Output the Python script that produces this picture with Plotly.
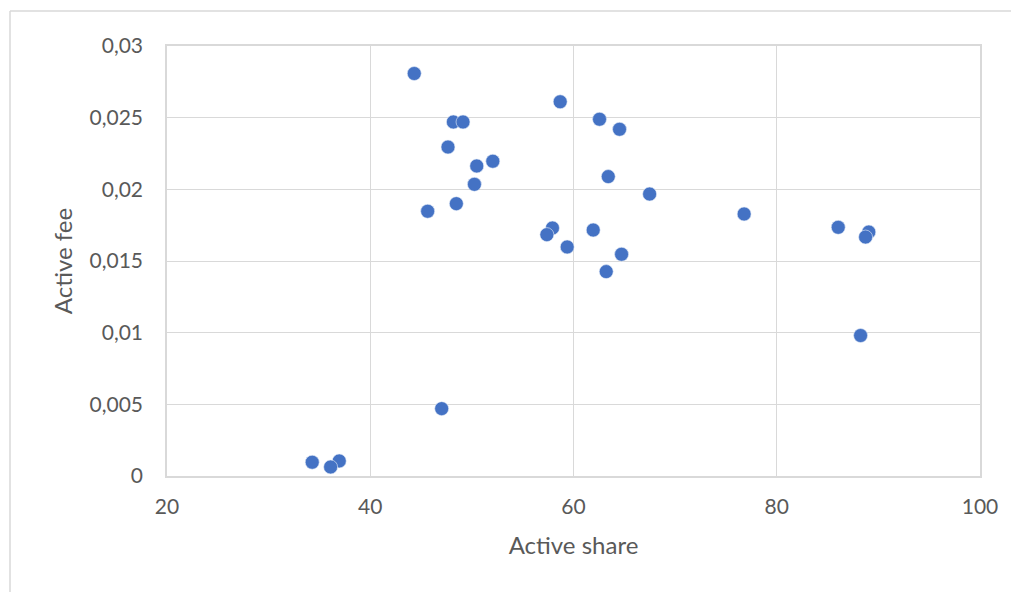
import plotly.graph_objects as go

active_share = [44.33, 58.69, 48.18, 49.13, 62.56, 64.53, 47.65, 52.06, 50.48, 50.25,
                63.42, 67.49, 45.65, 48.47, 76.79, 86.05, 89.06, 88.74, 57.93, 57.38,
                61.94, 59.38, 64.73, 63.22, 88.25, 47.03, 34.29, 36.95, 36.10]
active_fee = [0.02808, 0.02611, 0.0247, 0.0247, 0.02489, 0.02419, 0.02295, 0.02196, 0.02163, 0.02035,
              0.02089, 0.01967, 0.01847, 0.01900, 0.01828, 0.01735, 0.01702, 0.01667, 0.01730, 0.01684,
              0.01716, 0.01598, 0.01547, 0.01426, 0.00980, 0.00470, 0.00096, 0.00105, 0.00063]

x_ticks = [20, 40, 60, 80, 100]
x_labels = ["20", "40", "60", "80", "100"]
y_ticks = [0, 0.005, 0.01, 0.015, 0.02, 0.025, 0.03]
y_labels = ["0", "0,005", "0,01", "0,015", "0,02", "0,025", "0,03"]

FONT = "Lato, 'Open Sans', sans-serif"
GRID = "#d9d9d9"
TXT = "#595959"

fig = go.Figure(go.Scatter(
    x=active_share, y=active_fee, mode="markers",
    marker=dict(color="#4472C4", size=14, line=dict(width=0.6, color="#e8eef8")),
    showlegend=False, hoverinfo="x+y"))

fig.update_layout(
    width=1019, height=592,
    margin=dict(l=159, r=47, t=38, b=124),
    paper_bgcolor="white", plot_bgcolor="white",
    font=dict(family=FONT, size=21, color=TXT),
    xaxis=dict(range=[20, 100], tickvals=x_ticks, ticktext=x_labels,
               showgrid=True, gridcolor=GRID, gridwidth=1,
               showline=True, linecolor=GRID, linewidth=1.5, mirror=True,
               zeroline=False, ticks="", ticklabelstandoff=11,
               title=dict(text="Active share", standoff=20, font=dict(size=24, color=TXT))),
    yaxis=dict(range=[0, 0.03], tickvals=y_ticks, ticktext=y_labels,
               showgrid=True, gridcolor=GRID, gridwidth=1,
               showline=True, linecolor=GRID, linewidth=1.5, mirror=True,
               zeroline=False, ticks="", ticklabelstandoff=18,
               title=dict(text="Active fee", standoff=10, font=dict(size=24, color=TXT))),
    shapes=[
        dict(type="line", xref="paper", yref="paper",
             x0=(10 - 167) / 813, x1=1.2, y0=(476 - 11) / 430, y1=(476 - 11) / 430,
             line=dict(color=GRID, width=1.5)),
        dict(type="line", xref="paper", yref="paper",
             x0=(10 - 167) / 813, x1=(10 - 167) / 813, y0=-0.5, y1=(476 - 11) / 430,
             line=dict(color=GRID, width=1.5)),
    ],
)

fig.write_html("out.html")
